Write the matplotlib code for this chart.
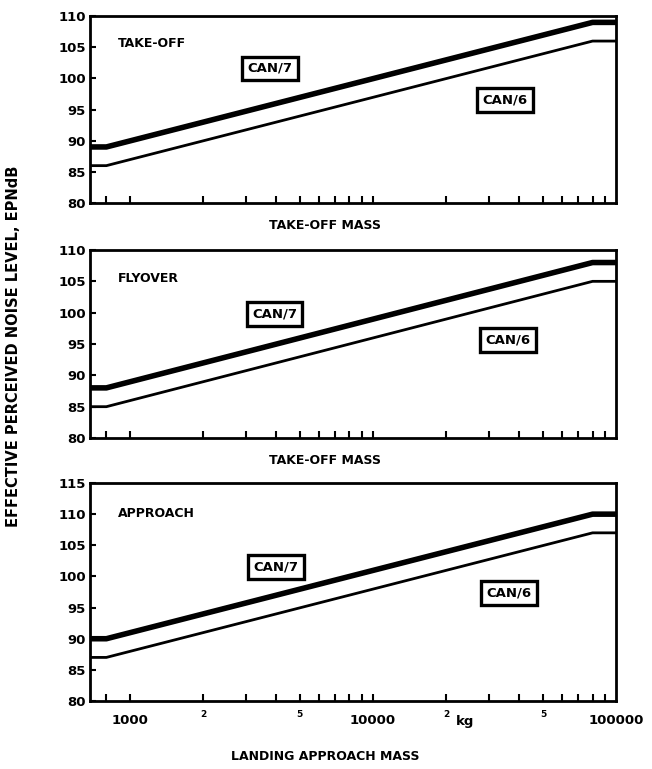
import numpy as np
import matplotlib
matplotlib.use("Agg")
import matplotlib.pyplot as plt
from matplotlib.ticker import FixedLocator, NullFormatter, NullLocator

# mass break points (kg) for the limit lines
MASS = [685, 800, 80000, 100000]

PANELS = ["TAKE-OFF", "FLYOVER", "APPROACH"]
XLABELS = ["TAKE-OFF MASS", "TAKE-OFF MASS", "LANDING APPROACH MASS"]

# EPNdB levels at the break points
CAN7 = {
    "TAKE-OFF": [89, 89, 109, 109],
    "FLYOVER": [88, 88, 108, 108],
    "APPROACH": [90, 90, 110, 110],
}
CAN6 = {
    "TAKE-OFF": [86, 86, 106, 106],
    "FLYOVER": [85, 85, 105, 105],
    "APPROACH": [87, 87, 107, 107],
}

YTOP = {"TAKE-OFF": 110, "FLYOVER": 110, "APPROACH": 115}
YMIN = 80

MINOR_TICKS = [800] + [m * 1000 for m in range(1, 10)] + [m * 10000 for m in range(1, 10)]

# axes placement in figure fraction [left, bottom, width, height]
AX_POS = [
    [0.138, 0.736, 0.807, 0.243],
    [0.138, 0.4304, 0.807, 0.2445],
    [0.138, 0.0884, 0.807, 0.2835],
]
PANEL_TXT = [(0.053, 0.855), (0.053, 0.85), (0.053, 0.86)]
CAN7_BOX = [(0.342, 0.72), (0.351, 0.66), (0.354, 0.615)]
CAN6_BOX = [(0.789, 0.55), (0.795, 0.52), (0.797, 0.495)]

plt.rcParams["font.family"] = ["DejaVu Sans"]
plt.rcParams["font.weight"] = "bold"

fig = plt.figure(figsize=(6.52, 7.69), dpi=100)

box_style = dict(boxstyle="square,pad=0.4", fc="white", ec="black", lw=2.4)

for i, name in enumerate(PANELS):
    ax = fig.add_axes(AX_POS[i])
    ax.set_xscale("log")
    ax.set_xlim(MASS[0], MASS[-1])
    ax.set_ylim(YMIN, YTOP[name])

    ax.plot(MASS, CAN7[name], color="black", lw=4.0, solid_capstyle="butt")
    ax.plot(MASS, CAN6[name], color="black", lw=2.0, solid_capstyle="butt")

    for sp in ax.spines.values():
        sp.set_linewidth(2.0)

    ax.yaxis.set_major_locator(FixedLocator(np.arange(YMIN, YTOP[name] + 1, 5)))
    ax.yaxis.set_minor_locator(NullLocator())
    ax.tick_params(axis="y", direction="in", length=4, width=1.5, labelsize=9.5, pad=3)

    ax.xaxis.set_major_locator(FixedLocator(MINOR_TICKS))
    ax.xaxis.set_minor_locator(NullLocator())
    ax.xaxis.set_major_formatter(NullFormatter())
    ax.tick_params(axis="x", direction="in", length=5, width=1.5)

    for lab in ax.get_yticklabels():
        lab.set_fontweight("bold")

    ax.text(PANEL_TXT[i][0], PANEL_TXT[i][1], name, transform=ax.transAxes,
            fontsize=9, fontweight="bold", ha="left", va="center")
    ax.text(CAN7_BOX[i][0], CAN7_BOX[i][1], "CAN/7", transform=ax.transAxes,
            fontsize=9.5, fontweight="bold", ha="center", va="center", bbox=box_style)
    ax.text(CAN6_BOX[i][0], CAN6_BOX[i][1], "CAN/6", transform=ax.transAxes,
            fontsize=9.5, fontweight="bold", ha="center", va="center", bbox=box_style)

    if i < 2:
        ax.text(0.447, -0.12, XLABELS[i], transform=ax.transAxes,
                fontsize=9, fontweight="bold", ha="center", va="center")
    else:
        for val, txt in [(1000, "1000"), (10000, "10000"), (100000, "100000")]:
            ax.text(val, -0.09, txt, transform=ax.get_xaxis_transform(),
                    fontsize=9.5, fontweight="bold", ha="center", va="center")
        for val in [2000, 5000, 20000, 50000]:
            ax.text(val, -0.06, str(val)[0], transform=ax.get_xaxis_transform(),
                    fontsize=6.5, fontweight="bold", ha="center", va="center")
        ax.text(24000, -0.095, "kg", transform=ax.get_xaxis_transform(),
                fontsize=9.5, fontweight="bold", ha="center", va="center")
        ax.text(0.447, -0.255, XLABELS[i], transform=ax.transAxes,
                fontsize=9, fontweight="bold", ha="center", va="center")

fig.text(0.02, 0.55, "EFFECTIVE PERCEIVED NOISE LEVEL, EPNdB", rotation=90,
         fontsize=10.5, fontweight="bold", ha="center", va="center")

fig.savefig("out.png", dpi=100)
